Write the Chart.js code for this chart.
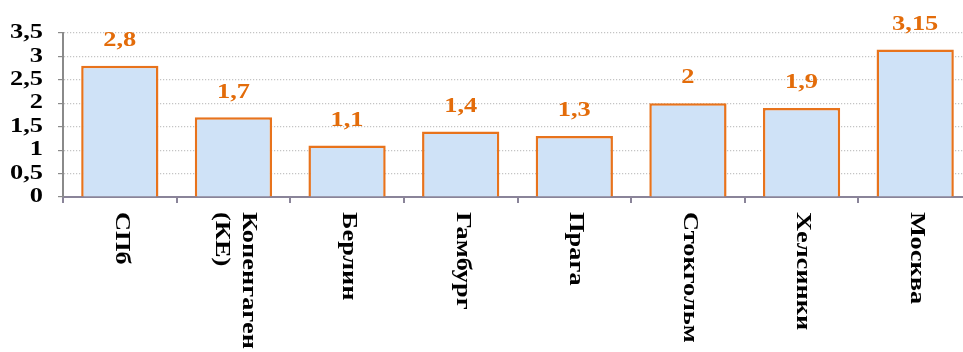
<!DOCTYPE html>
<html>
<head>
<meta charset="utf-8">
<script src="https://cdn.jsdelivr.net/npm/chart.js@4/dist/chart.umd.min.js"></script>
<style>
  html, body { margin: 0; padding: 0; background: #fff; overflow: hidden; }
  #wrap { position: relative; width: 972px; height: 352px; }
</style>
</head>
<body>
<div id="wrap"><canvas id="c" width="972" height="352"></canvas></div>
<script>
const cities = [["СПб"], ["Копенгаген", "(КЕ)"], ["Берлин"], ["Гамбург"], ["Прага"], ["Стокгольм"], ["Хелсинки"], ["Москва"]];
const values = [2.8, 1.7, 1.1, 1.4, 1.3, 2, 1.9, 3.15];
const yTicks = [0, 0.5, 1, 1.5, 2, 2.5, 3, 3.5];

const serif = '"Liberation Serif", "Times New Roman", serif';
const orange = '#E36C0A';
const widen = 1.32; // wide-set lettering
const comma = v => String(v).replace('.', ',');

// Draws text widened along its own direction
function wideText(ctx, text, x, y, angle, align) {
  ctx.save();
  ctx.translate(x, y);
  ctx.rotate(angle);
  ctx.scale(widen, 1);
  ctx.textAlign = align;
  ctx.fillText(text, 0, 0);
  ctx.restore();
}

// Value labels above each bar
const valueLabels = {
  id: 'valueLabels',
  afterDatasetsDraw(chart) {
    const ctx = chart.ctx;
    const meta = chart.getDatasetMeta(0);
    ctx.save();
    ctx.font = 'bold 20px ' + serif;
    ctx.fillStyle = orange;
    ctx.textBaseline = 'middle';
    meta.data.forEach((bar, i) => {
      wideText(ctx, comma(values[i]), bar.x, bar.y - 25, 0, 'center');
    });
    ctx.restore();
  }
};

// Y-axis numbers and category names written vertically, top to bottom
const axisLabels = {
  id: 'axisLabels',
  afterDraw(chart) {
    const ctx = chart.ctx;
    const xs = chart.scales.x;
    const ys = chart.scales.y;
    ctx.save();
    ctx.font = 'bold 20px ' + serif;
    ctx.fillStyle = '#000';
    ctx.textBaseline = 'middle';
    yTicks.forEach(v => {
      wideText(ctx, comma(v), ys.right - 20, ys.getPixelForValue(v), 0, 'right');
    });
    const top = xs.top + 15;
    const lineGap = 27;
    cities.forEach((lines, i) => {
      const cx = xs.getPixelForValue(i) + 1;
      const n = lines.length;
      lines.forEach((line, j) => {
        const offset = ((n - 1) / 2 - j) * lineGap;
        wideText(ctx, line, cx + offset, top, Math.PI / 2, 'left');
      });
    });
    ctx.restore();
  }
};

new Chart(document.getElementById('c'), {
  type: 'bar',
  data: {
    labels: cities.map(l => l.join(' ')),
    datasets: [{
      data: values,
      backgroundColor: '#CFE2F7',
      borderColor: '#E8731C',
      borderWidth: 2.5,
      categoryPercentage: 1,
      barPercentage: 0.68
    }]
  },
  options: {
    responsive: false,
    animation: false,
    layout: { padding: { top: 33, right: 0, bottom: 0, left: 0 } },
    plugins: { legend: { display: false }, tooltip: { enabled: false } },
    scales: {
      x: {
        offset: true,
        grid: { offset: true, drawOnChartArea: false, drawTicks: true, tickLength: 6, color: '#8A8499', lineWidth: 2 },
        border: { color: '#8A8499', width: 2 },
        ticks: { display: false },
        afterFit(scale) { scale.height = 155; }
      },
      y: {
        min: 0,
        max: 3.5,
        afterBuildTicks(scale) { scale.ticks = yTicks.map(v => ({ value: v })); },
        grid: {
          color: '#C4C4C4',
          lineWidth: 1.2,
          tickLength: 5,
          tickColor: '#8A8A8A',
          tickBorderDash: [],
          drawTicks: true
        },
        border: { color: '#8A8A8A', width: 2, dash: [1.2, 1.8] },
        ticks: { display: false, autoSkip: false },
        afterFit(scale) { scale.width = 63; }
      }
    }
  },
  plugins: [valueLabels, axisLabels]
});
</script>
</body>
</html>
